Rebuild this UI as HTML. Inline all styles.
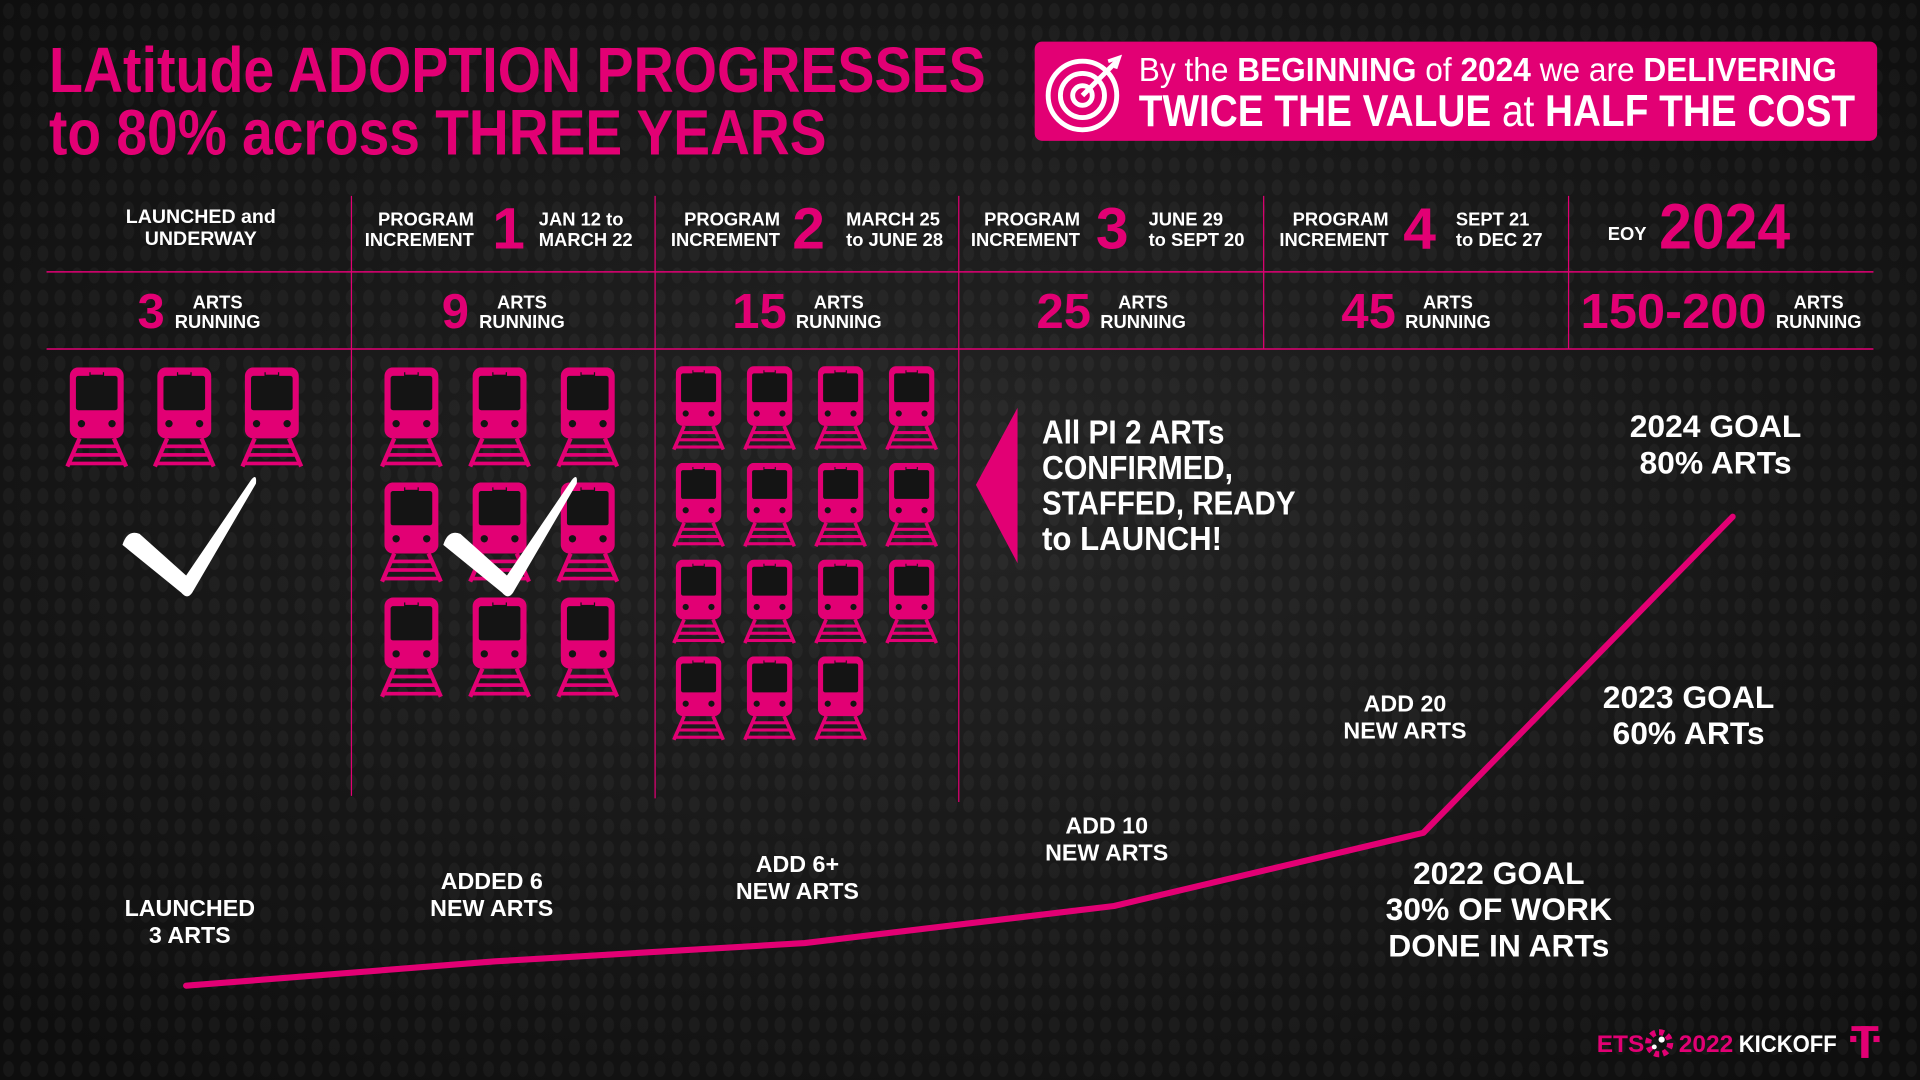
<!DOCTYPE html>
<html><head><meta charset="utf-8"><style>
html,body{margin:0;padding:0;background:#121212;width:1920px;height:1080px;overflow:hidden}
svg{display:block}
text{font-family:"Liberation Sans Narrow","Liberation Sans",sans-serif;font-weight:bold}
</style></head><body>
<svg id="chart" width="1920" height="1080" viewBox="0 0 1568 882" xmlns="http://www.w3.org/2000/svg">
<defs>
<radialGradient id="bgGlow" cx="0.5" cy="0.45" r="0.7"><stop offset="0" stop-color="#242424"/><stop offset="1" stop-color="#0e0e0e"/></radialGradient>
<pattern id="dots" width="14" height="18" patternUnits="userSpaceOnUse"><ellipse cx="7" cy="9" rx="4.5" ry="6.5" fill="#ffffff" opacity="0.035"/></pattern>
<symbol id="train" viewBox="0 0 54 82">
<rect x="5" y="0" width="44" height="58" rx="7" fill="#e20074"/>
<rect x="10" y="7" width="34" height="28" rx="2" fill="#141414"/>
<rect x="21" y="4" width="12" height="4" fill="#141414"/>
<rect x="22" y="3" width="10" height="3" fill="#e20074"/>
<circle cx="14.5" cy="46" r="3" fill="#141414"/><circle cx="39.5" cy="46" r="3" fill="#141414"/>
<line x1="13" y1="58" x2="3" y2="81" stroke="#e20074" stroke-width="3.5"/>
<line x1="41" y1="58" x2="51" y2="81" stroke="#e20074" stroke-width="3.5"/>
<rect x="9" y="63" width="36" height="3" fill="#e20074"/>
<rect x="7" y="70" width="40" height="3" fill="#e20074"/>
<rect x="5" y="77" width="44" height="3" fill="#e20074"/>
</symbol>
</defs>
<rect x="0" y="0" width="1568" height="882" fill="url(#bgGlow)"/>
<rect x="0" y="0" width="1568" height="882" fill="url(#dots)"/>

<g fill="#e20074">
<text x="40" y="75" font-size="52" textLength="765" lengthAdjust="spacingAndGlyphs">LAtitude ADOPTION PROGRESSES</text>
<text x="40" y="126" font-size="52" textLength="635" lengthAdjust="spacingAndGlyphs">to 80% across THREE YEARS</text>
</g>

<g>
<rect x="845" y="34" width="688" height="81" rx="6" fill="#e20074"/>
<g fill="none" stroke="#fff" stroke-width="4">
<circle cx="884" cy="78" r="28"/><circle cx="884" cy="78" r="18"/><circle cx="884" cy="78" r="8"/>
<line x1="884" y1="78" x2="912" y2="50" stroke-width="4"/>
<path d="M905 50 L914 47 L911 56" stroke-width="3"/>
</g>
<text x="930" y="66" font-size="27" fill="#fff" textLength="570" lengthAdjust="spacingAndGlyphs"><tspan font-weight="normal">By the </tspan>BEGINNING<tspan font-weight="normal"> of </tspan>2024<tspan font-weight="normal"> we are </tspan>DELIVERING</text>
<text x="930" y="103" font-size="36" fill="#fff" textLength="585" lengthAdjust="spacingAndGlyphs">TWICE THE VALUE <tspan font-weight="normal">at</tspan> HALF THE COST</text>
</g>

<g stroke="#e20074" stroke-width="1.2">
<line x1="38" y1="222" x2="1530" y2="222"/>
<line x1="38" y1="285" x2="1530" y2="285"/>
<line x1="287" y1="160" x2="287" y2="650" stroke-width="1"/>
<line x1="535" y1="160" x2="535" y2="652" stroke-width="1"/>
<line x1="783" y1="160" x2="783" y2="655" stroke-width="1"/>
<line x1="1032" y1="160" x2="1032" y2="285" stroke-width="1"/>
<line x1="1281" y1="160" x2="1281" y2="285" stroke-width="1"/>
</g>

<g font-size="15" fill="#fff">
<text x="164" y="182" text-anchor="middle" font-size="16">LAUNCHED and</text>
<text x="164" y="200" text-anchor="middle" font-size="16">UNDERWAY</text>

<text x="387" y="184" text-anchor="end">PROGRAM</text><text x="387" y="201" text-anchor="end">INCREMENT</text>
<text x="402" y="203" font-size="48" fill="#e20074">1</text>
<text x="440" y="184" font-weight="normal">JAN 12 to</text><text x="440" y="201" font-weight="normal">MARCH 22</text>

<text x="637" y="184" text-anchor="end">PROGRAM</text><text x="637" y="201" text-anchor="end">INCREMENT</text>
<text x="647" y="203" font-size="48" fill="#e20074">2</text>
<text x="691" y="184" font-weight="normal">MARCH 25</text><text x="691" y="201" font-weight="normal">to JUNE 28</text>

<text x="882" y="184" text-anchor="end">PROGRAM</text><text x="882" y="201" text-anchor="end">INCREMENT</text>
<text x="895" y="203" font-size="48" fill="#e20074">3</text>
<text x="938" y="184" font-weight="normal">JUNE 29</text><text x="938" y="201" font-weight="normal">to SEPT 20</text>

<text x="1134" y="184" text-anchor="end">PROGRAM</text><text x="1134" y="201" text-anchor="end">INCREMENT</text>
<text x="1146" y="203" font-size="48" fill="#e20074">4</text>
<text x="1189" y="184" font-weight="normal">SEPT 21</text><text x="1189" y="201" font-weight="normal">to DEC 27</text>

<text x="1313" y="196">EOY</text>
<text x="1355" y="203" font-size="52" fill="#e20074" textLength="107" lengthAdjust="spacingAndGlyphs">2024</text>
</g>

<g id="artsRow"></g>
<g id="trains"></g>

<g fill="#fff">
<path d="M100 445 Q104 432 114 436 L152 470 L205 392 Q210 386 209 395 L157 484 Q153 490 148 484 Z"/>
<path d="M362 445 Q366 432 376 436 L414 470 L467 392 Q472 386 471 395 L419 484 Q415 490 410 484 Z"/>
</g>

<g>
<polygon points="831,333 831,460 797,396" fill="#e20074"/>
<g fill="#fff" font-size="27">
<text x="851" y="362" textLength="149" lengthAdjust="spacingAndGlyphs">All PI 2 ARTs</text>
<text x="851" y="391" textLength="156" lengthAdjust="spacingAndGlyphs">CONFIRMED,</text>
<text x="851" y="420" textLength="207" lengthAdjust="spacingAndGlyphs">STAFFED, READY</text>
<text x="851" y="449" textLength="147" lengthAdjust="spacingAndGlyphs">to LAUNCH!</text>
</g>
</g>

<g id="curve"></g>
<g id="labels"></g>

<g>
<text x="1304" y="859" font-size="20" fill="#e20074">ETS</text>
<circle cx="1355" cy="852" r="9" fill="none" stroke="#e20074" stroke-width="5" stroke-dasharray="4 3"/>
<circle cx="1357" cy="849" r="2.5" fill="#fff"/><circle cx="1351" cy="855" r="2" fill="#fff"/>
<text x="1371" y="859" font-size="20" fill="#e20074">2022</text>
<text x="1420" y="859" font-size="20" fill="#fff" textLength="80" lengthAdjust="spacingAndGlyphs">KICKOFF</text>
<g fill="#e20074">
<rect x="1512" y="838" width="22" height="4"/><rect x="1520" y="838" width="6" height="26"/>
<rect x="1511" y="846" width="5" height="5"/><rect x="1530" y="846" width="5" height="5"/>
</g>
</g>
</svg>
<script>
// ---- data ----
const stages = ["Launched", "PI 1", "PI 2", "PI 3", "PI 4", "EOY 2024"];
const adoption = [0, 5.2, 9.1, 17, 32.6, 100];          // relative progress (curve height, % of 2024 goal)
const artsNumbers = ["3", "9", "15", "25", "45", "150-200"];
const trainCounts = [3, 9, 15];
const milestoneLabels = [["LAUNCHED", "3 ARTS"], ["ADDED 6", "NEW ARTS"], ["ADD 6+", "NEW ARTS"], ["ADD 10", "NEW ARTS"], ["ADD 20", "NEW ARTS"]];
const goalLabels = [["2022 GOAL", "30% OF WORK", "DONE IN ARTs"], ["2023 GOAL", "60% ARTs"], ["2024 GOAL", "80% ARTs"]];

const NS = "http://www.w3.org/2000/svg";
function mk(tag, attrs, parent) {
  const e = document.createElementNS(NS, tag);
  for (const k in attrs) e.setAttribute(k, attrs[k]);
  parent.appendChild(e); return e;
}
// axis functions
const xScale = i => 152 + i * 252.6;
const yScale = v => 805 - v * 3.83;

// arts row
const artsRow = document.getElementById('artsRow');
const colLeft = [38, 287, 535, 783, 1032, 1281];
const colW = [249, 248, 248, 249, 249, 249];
artsNumbers.forEach((n, i) => {
  const g = mk('g', {}, artsRow);
  
  
  const numW = n.length * 21.5;
  const total = numW + 10 + 69;
  const x0 = colLeft[i] + (colW[i] - total) / 2;
  const t = mk('text', {x: x0, y: 268, 'font-size': 40, fill: '#e20074'}, g);
  if (n.length > 2) { t.setAttribute('textLength', 152); t.setAttribute('lengthAdjust', 'spacingAndGlyphs'); }
  t.textContent = n;
  const cx = x0 + numW + 10 + 34;
  const a = mk('text', {x: cx, y: 252, 'font-size': 15, fill: '#fff', 'text-anchor': 'middle'}, g); a.textContent = 'ARTS';
  const r = mk('text', {x: cx, y: 268, 'font-size': 15, fill: '#fff', 'text-anchor': 'middle'}, g); r.textContent = 'RUNNING';
});

// trains
const trains = document.getElementById('trains');
const layouts = [
  {x: 52, y: 300, cols: 3, dx: 71.5, dy: 94, w: 54, h: 82},
  {x: 309, y: 300, cols: 3, dx: 72, dy: 94, w: 54, h: 82},
  {x: 546, y: 299, cols: 4, dx: 58, dy: 79, w: 49, h: 69}
];
trainCounts.forEach((cnt, c) => {
  const L = layouts[c];
  for (let k = 0; k < cnt; k++) {
    const u = mk('use', {href: '#train', x: L.x + (k % L.cols) * L.dx, y: L.y + Math.floor(k / L.cols) * L.dy, width: L.w, height: L.h}, trains);
    
    
  }
});

// curve
const curve = document.getElementById('curve');
const pts = adoption.map((v, i) => [xScale(i), yScale(v)]);
const path = mk('polyline', {points: pts.map(p => p.join(',')).join(' '), fill: 'none', stroke: '#e20074', 'stroke-width': 5, 'stroke-linejoin': 'round', 'stroke-linecap': 'round'}, curve);



// labels
const labels = document.getElementById('labels');
const labelOffsets = [-55, -57, -56, -57, -97];
milestoneLabels.forEach((lines, i) => {
  const g = mk('g', {}, labels);
  
  
  const x = xScale(i) + (i === 0 ? 3 : (i === 1 ? -3 : -6 + (i === 4 ? -9 : 0)));
  const y = yScale(adoption[i]) + labelOffsets[i];
  lines.forEach((ln, j) => {
    const t = mk('text', {x: x, y: y + j * 22 - 2, 'font-size': 19, fill: '#fff', 'text-anchor': 'middle'}, g);
    t.textContent = ln;
  });
});
const goalPos = [[1224, 722, 29.5], [1379, 578, 29.5], [1401, 357, 29.5]];
goalLabels.forEach((lines, i) => {
  const g = mk('g', {}, labels);
  
  
  lines.forEach((ln, j) => {
    const t = mk('text', {x: goalPos[i][0], y: goalPos[i][1] + j * goalPos[i][2], 'font-size': 26, fill: '#fff', 'text-anchor': 'middle'}, g);
    t.textContent = ln;
  });
});
</script>
</body></html>
